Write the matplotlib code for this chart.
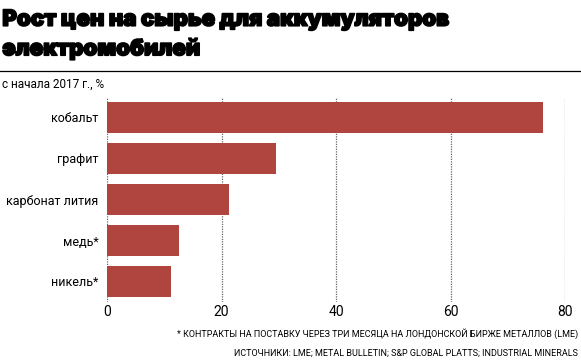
import matplotlib
matplotlib.use('Agg')
import matplotlib.pyplot as plt
import matplotlib.patheffects as pe

# data
categories = ['кобальт', 'графит', 'карбонат лития', 'медь*', 'никель*']
values = [76.2, 29.5, 21.3, 12.6, 11.2]
xticks = [0, 20, 40, 60, 80]

bar_color = '#b0453f'

plt.rcParams['font.family'] = ['Roboto', 'DejaVu Sans']

fig = plt.figure(figsize=(5.81, 3.63), dpi=100)
ax = fig.add_axes([107/581, 1 - 302/363, (565 - 107)/581, (302 - 97)/363])

ypos = list(range(len(categories)))
ax.barh(ypos, values, height=0.78, color=bar_color, zorder=2)
ax.set_ylim(len(categories) - 0.5, -0.5)
ax.set_xlim(0, 80)

ax.set_yticks(ypos)
ax.set_yticklabels(categories, fontsize=9)
ax.set_xticks(xticks)
ax.set_xticklabels([str(t) for t in xticks], fontsize=10)
ax.tick_params(axis='y', length=0, pad=6)
ax.tick_params(axis='x', length=0, pad=2)
for s in ax.spines.values():
    s.set_visible(False)
ax.grid(axis='x', linestyle=(0, (1, 1)), color='#666666', linewidth=0.9, zorder=0)

# title block - heavy display face, thickened with a stroke
title_font = ['Inter', 'Roboto', 'DejaVu Sans']
heavy = [pe.withStroke(linewidth=1.2, foreground='black')]
fig.text(0.004, 1 - 20/363, 'Рост цен на сырье для аккумуляторов', fontsize=16,
         family=title_font, fontweight='black', va='center', ha='left', path_effects=heavy)
fig.text(0.004, 1 - 49/363, 'электромобилей', fontsize=16,
         family=title_font, fontweight='black', va='center', ha='left', path_effects=heavy)
fig.add_artist(plt.Line2D([0, 1], [1 - 71/363, 1 - 71/363], color='black', linewidth=0.9))
fig.text(0.004, 1 - 84/363, 'с начала 2017 г., %', fontsize=8.5, va='center', ha='left')

# footnotes
fig.text(0.995, 1 - 334/363, '* КОНТРАКТЫ НА ПОСТАВКУ ЧЕРЕЗ ТРИ МЕСЯЦА НА ЛОНДОНСКОЙ БИРЖЕ МЕТАЛЛОВ (LME)',
         fontsize=6.5, va='center', ha='right')
fig.text(0.995, 1 - 353/363, 'ИСТОЧНИКИ: LME; METAL BULLETIN; S&P GLOBAL PLATTS; INDUSTRIAL MINERALS',
         fontsize=6.5, va='center', ha='right')

fig.savefig('out.png', dpi=100)
